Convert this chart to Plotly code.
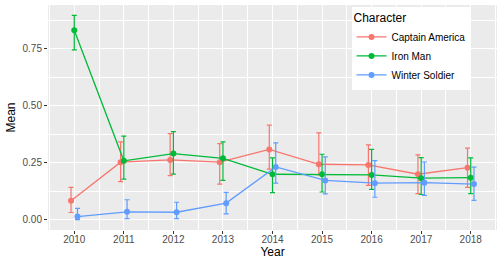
import plotly.graph_objects as go

years = [2010, 2011, 2012, 2013, 2014, 2015, 2016, 2017, 2018]
characters = ["Captain America", "Iron Man", "Winter Soldier"]
colors = ["#F8766D", "#00BA38", "#619CFF"]

ca_mean = [0.083, 0.252, 0.262, 0.252, 0.308, 0.243, 0.240, 0.199, 0.228]
ca_hi = [0.141, 0.341, 0.378, 0.334, 0.415, 0.381, 0.328, 0.284, 0.314]
ca_lo = [0.031, 0.167, 0.193, 0.156, 0.222, 0.196, 0.150, 0.114, 0.141]

im_mean = [0.832, 0.258, 0.290, 0.269, 0.199, 0.199, 0.196, 0.182, 0.184]
im_hi = [0.897, 0.367, 0.386, 0.341, 0.271, 0.287, 0.308, 0.272, 0.271]
im_lo = [0.746, 0.178, 0.200, 0.172, 0.118, 0.121, 0.133, 0.110, 0.114]

ws_mean = [0.013, 0.034, 0.032, 0.072, 0.231, 0.172, 0.160, 0.162, 0.156]
ws_hi = [0.049, 0.087, 0.076, 0.119, 0.337, 0.275, 0.259, 0.253, 0.230]
ws_lo = [0.000, 0.004, 0.004, 0.025, 0.160, 0.113, 0.098, 0.106, 0.084]

means = [ca_mean, im_mean, ws_mean]
his = [ca_hi, im_hi, ws_hi]
los = [ca_lo, im_lo, ws_lo]
dodge = [-0.065, 0.0, 0.065]

fig = go.Figure()
for name, col, m, hi, lo, d in zip(characters, colors, means, his, los, dodge):
    fig.add_trace(go.Scatter(
        x=[y + d for y in years], y=m, name=name, mode="lines+markers",
        line=dict(color=col, width=1.3),
        marker=dict(color=col, size=6),
        error_y=dict(type="data", symmetric=False,
                     array=[h - v for h, v in zip(hi, m)],
                     arrayminus=[v - l for v, l in zip(m, lo)],
                     color=col, thickness=1.2, width=2.5),
    ))

grid = "white"
fig.update_layout(
    width=502, height=263,
    margin=dict(l=48, r=5, t=5, b=33, autoexpand=False),
    paper_bgcolor="white", plot_bgcolor="#EBEBEB",
    font=dict(family="Liberation Sans, Arial, sans-serif", size=10, color="#4D4D4D"),
    showlegend=True,
    legend=dict(
        x=0.676, y=0.992, xanchor="left", yanchor="top",
        bgcolor="white", borderwidth=0,
        title=dict(text="Character", font=dict(size=12, color="black")),
        font=dict(size=10, color="black"),
        traceorder="normal",
    ),
    xaxis=dict(
        range=[2009.47, 2018.53], tickmode="array", tickvals=years,
        ticktext=[str(y) for y in years],
        showgrid=True, gridcolor=grid, gridwidth=1.1,
        minor=dict(tickmode="array", tickvals=[y + 0.5 for y in [2009] + years],
                   showgrid=True, gridcolor=grid, gridwidth=0.5, ticks=""),
        ticks="outside", ticklen=3, tickcolor="#333333", tickwidth=1,
        ticklabelstandoff=-3,
        zeroline=False, showline=False, automargin=False,
        title=dict(text="Year", font=dict(size=12, color="black"), standoff=0),
        tickfont=dict(size=10, color="#4D4D4D"),
    ),
    yaxis=dict(
        range=[-0.046, 0.943], tickmode="array", tickvals=[0, 0.25, 0.5, 0.75],
        ticktext=["0.00", "0.25", "0.50", "0.75"],
        showgrid=True, gridcolor=grid, gridwidth=1.1,
        minor=dict(tickmode="array", tickvals=[0.125, 0.375, 0.625, 0.875],
                   showgrid=True, gridcolor=grid, gridwidth=0.5, ticks=""),
        ticks="outside", ticklen=3, tickcolor="#333333", tickwidth=1,
        zeroline=False, showline=False, automargin=False,
        title=dict(text="Mean", font=dict(size=12, color="black"), standoff=4),
        tickfont=dict(size=10, color="#4D4D4D"),
    ),
)

fig.write_html("out.html", config={"displayModeBar": False},
               post_script="document.body.style.margin='0';")
